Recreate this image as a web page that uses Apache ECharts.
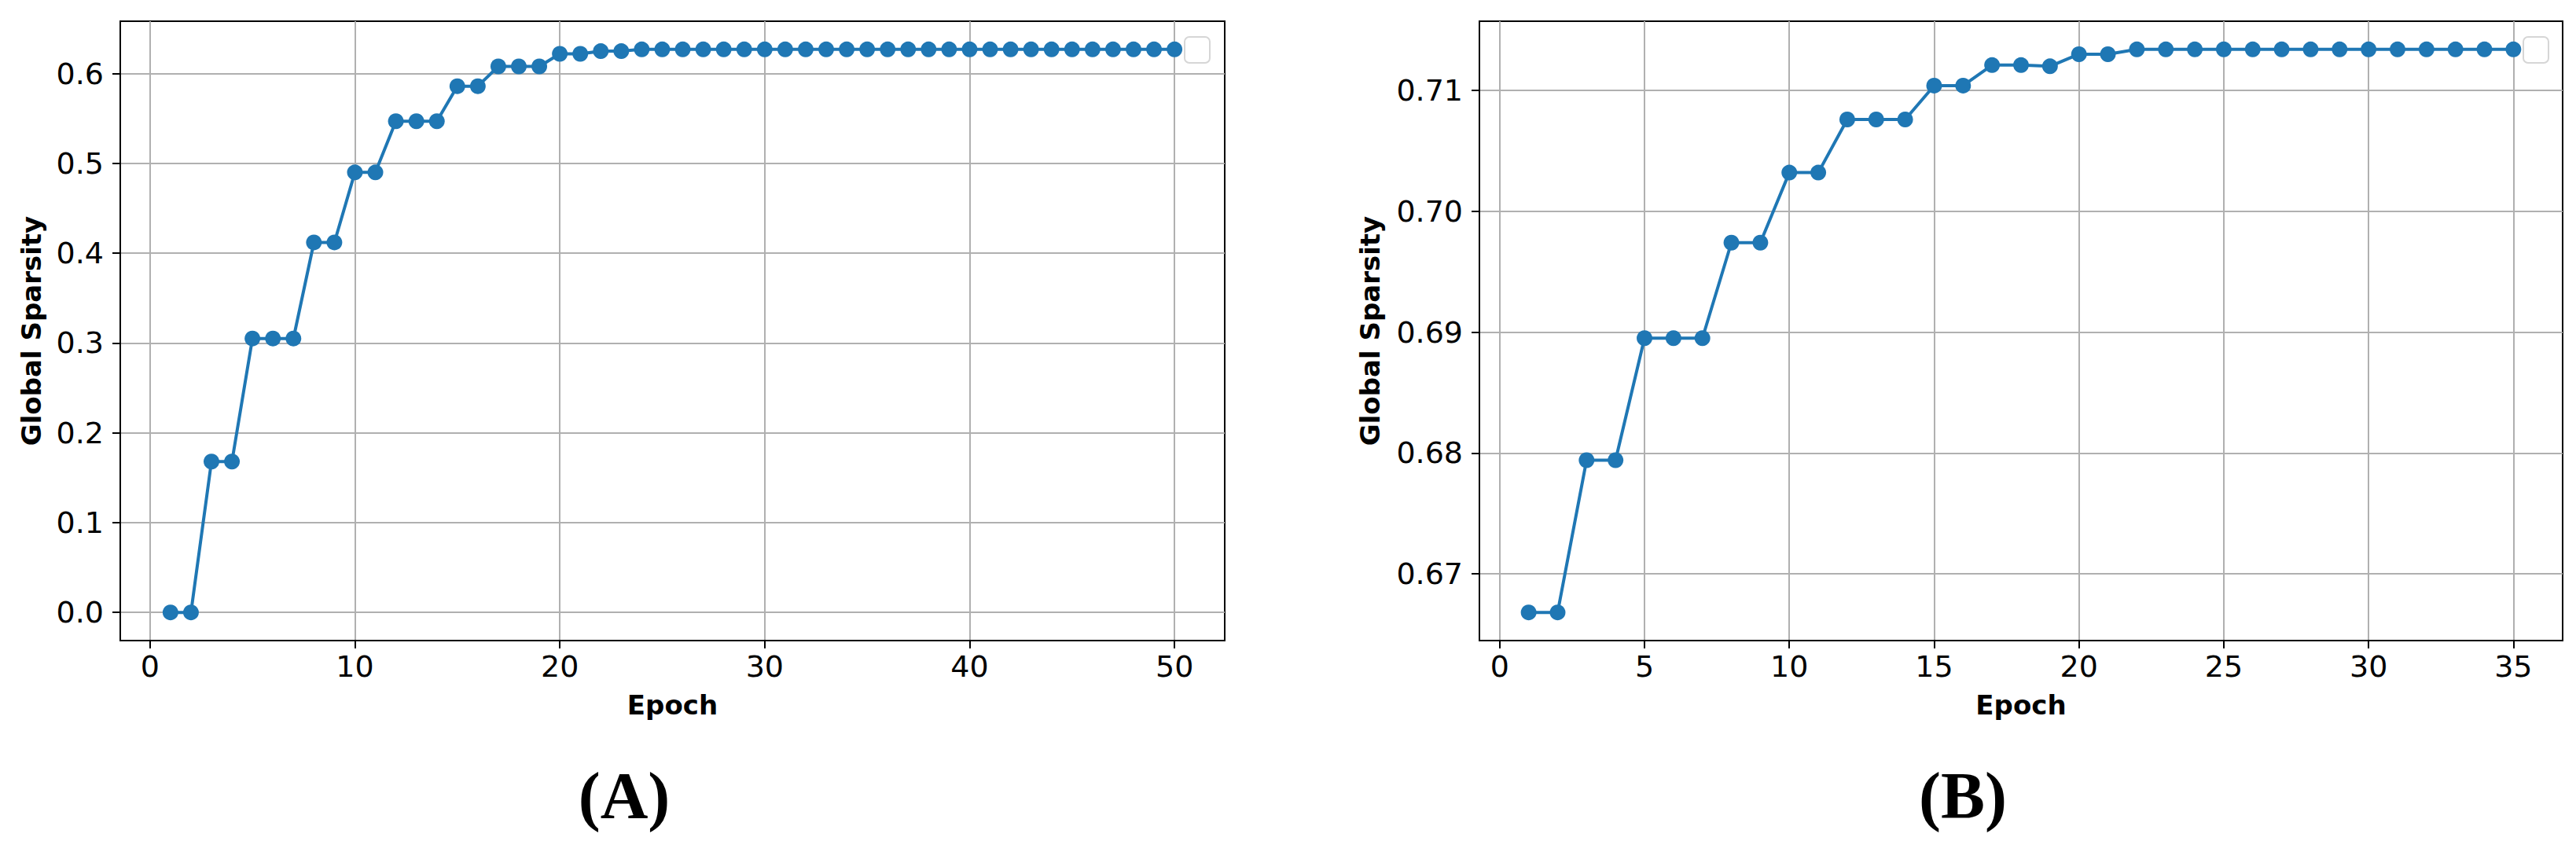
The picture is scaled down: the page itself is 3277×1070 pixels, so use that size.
<!DOCTYPE html>
<html><head><meta charset="utf-8">
<script src="https://cdn.jsdelivr.net/npm/echarts@6/dist/echarts.min.js"></script>
<style>html,body{margin:0;padding:0;background:#fff}#c{width:3277px;height:1070px}</style>
</head><body><div id="c"></div>
<script>
// ---- data ----
const epochsA = [1,2,3,4,5,6,7,8,9,10,11,12,13,14,15,16,17,18,19,20,21,22,23,24,25,26,27,28,29,30,31,32,33,34,35,36,37,38,39,40,41,42,43,44,45,46,47,48,49,50];
const sparsityA = [0.000,0.000,0.168,0.168,0.305,0.305,0.305,0.412,0.412,0.490,
                   0.490,0.547,0.547,0.547,0.586,0.586,0.608,0.608,0.608,0.622,
                   0.622,0.625,0.625,0.627,0.627,0.627,0.627,0.627,0.627,0.627,
                   0.627,0.627,0.627,0.627,0.627,0.627,0.627,0.627,0.627,0.627,
                   0.627,0.627,0.627,0.627,0.627,0.627,0.627,0.627,0.627,0.627];
const epochsB = [1,2,3,4,5,6,7,8,9,10,11,12,13,14,15,16,17,18,19,20,21,22,23,24,25,26,27,28,29,30,31,32,33,34,35];
const sparsityB = [0.6668,0.6668,0.6794,0.6794,0.6895,0.6895,0.6895,0.6974,0.6974,0.7032,
                   0.7032,0.7076,0.7076,0.7076,0.7104,0.7104,0.7121,0.7121,0.7120,0.7130,
                   0.7130,0.7134,0.7134,0.7134,0.7134,0.7134,0.7134,0.7134,0.7134,0.7134,
                   0.7134,0.7134,0.7134,0.7134,0.7134];
const xTicksA = [0,10,20,30,40,50];
const yTicksA = [0.0,0.1,0.2,0.3,0.4,0.5,0.6];
const xTicksB = [0,5,10,15,20,25,30,35];
const yTicksB = [0.67,0.68,0.69,0.70,0.71];
const yDecimalsA = 1, yDecimalsB = 2;
const xName = 'Epoch', yName = 'Global Sparsity';
const panelLabels = ['(A)','(B)'];

// ---- helpers ----
const BLUE = '#1f77b4';
function pad(arr, frac){ const lo=Math.min(...arr), hi=Math.max(...arr), d=(hi-lo)*frac; return [lo-d, hi+d]; }
const TICK_FONT = 'DejaVu Sans';
function xAxisCfg(gi, ticks, range){
  return {
    gridIndex: gi, type:'value', min: range[0], max: range[1],
    name: xName, nameLocation:'middle', nameGap: 65,
    nameTextStyle:{fontFamily:TICK_FONT, fontWeight:'bold', fontSize:34, color:'#000'},
    axisLine:{show:true, onZero:false, lineStyle:{color:'#000', width:2}},
    axisTick:{show:true, inside:false, length:10, customValues: ticks, lineStyle:{color:'#000', width:2}},
    axisLabel:{show:true, customValues: ticks, margin:14, fontFamily:TICK_FONT, fontSize:38, color:'#000',
               formatter: v => String(v)},
    splitLine:{show:true, lineStyle:{color:'#b0b0b0', width:2}}
  };
}
function yAxisCfg(gi, ticks, range, dec, gap){
  return {
    gridIndex: gi, type:'value', min: range[0], max: range[1],
    name: yName, nameLocation:'middle', nameGap: gap,
    nameTextStyle:{fontFamily:TICK_FONT, fontWeight:'bold', fontSize:34, color:'#000'},
    axisLine:{show:true, onZero:false, lineStyle:{color:'#000', width:2}},
    axisTick:{show:true, inside:false, length:10, customValues: ticks, lineStyle:{color:'#000', width:2}},
    axisLabel:{show:true, customValues: ticks, margin:21, fontFamily:TICK_FONT, fontSize:38, color:'#000',
               formatter: v => Number(v).toFixed(dec)},
    splitLine:{show:true, lineStyle:{color:'#b0b0b0', width:2}}
  };
}
function lineSeries(gi, xs, ys){
  return {
    type:'line', xAxisIndex: gi, yAxisIndex: gi,
    data: xs.map((x,i)=>[x, ys[i]]),
    symbol:'circle', symbolSize:20, showSymbol:true,
    lineStyle:{color:BLUE, width:4}, itemStyle:{color:BLUE},
    emphasis:{disabled:true}, animation:false, clip:false, z:5
  };
}

const chart = echarts.init(document.getElementById('c'), null, {renderer:'svg'});
chart.setOption({
  animation:false,
  backgroundColor:'#fff',
  grid:[
    {left:153, top:27, width:1405, height:788, show:true, borderColor:'#000', borderWidth:2, backgroundColor:'transparent'},
    {left:1882, top:27, width:1378, height:788, show:true, borderColor:'#000', borderWidth:2, backgroundColor:'transparent'}
  ],
  xAxis:[ xAxisCfg(0, xTicksA, pad(epochsA, 0.05)), xAxisCfg(1, xTicksB, pad(epochsB, 0.05)) ],
  yAxis:[ yAxisCfg(0, yTicksA, pad(sparsityA, 0.05), yDecimalsA, 96), yAxisCfg(1, yTicksB, pad(sparsityB, 0.05), yDecimalsB, 122) ],
  series:[ lineSeries(0, epochsA, sparsityA), lineSeries(1, epochsB, sparsityB) ],
  graphic:[
    {type:'rect', shape:{x:1507, y:47, width:32, height:33, r:6}, style:{fill:'rgba(255,255,255,0.8)', stroke:'#d6d6d6', lineWidth:2}, z:10},
    {type:'rect', shape:{x:3210, y:47, width:32, height:33, r:6}, style:{fill:'rgba(255,255,255,0.8)', stroke:'#d6d6d6', lineWidth:2}, z:10},
    {type:'text', x:794, y:1012, style:{text:panelLabels[0], font:'bold 84px "Liberation Serif"', fill:'#000', textAlign:'center', textVerticalAlign:'middle'}},
    {type:'text', x:2497, y:1012, style:{text:panelLabels[1], font:'bold 84px "Liberation Serif"', fill:'#000', textAlign:'center', textVerticalAlign:'middle'}}
  ]
});
</script>
</body></html>
